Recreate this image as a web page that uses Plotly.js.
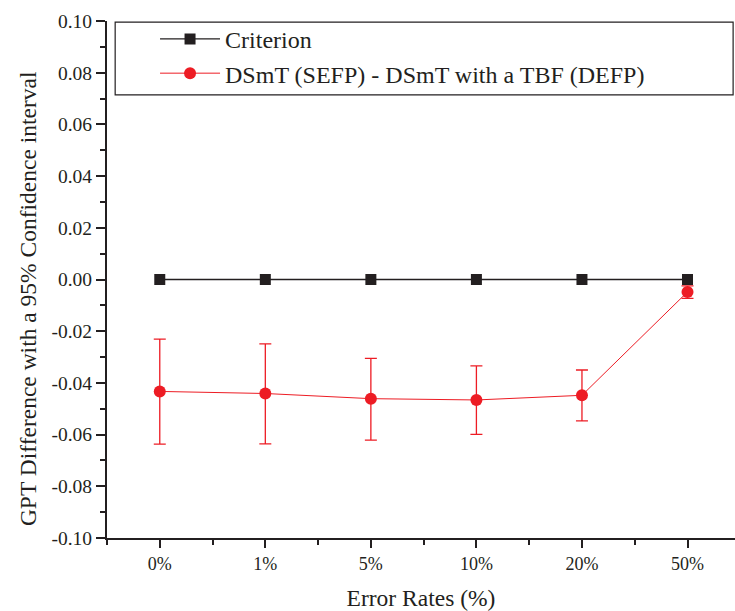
<!DOCTYPE html>
<html>
<head>
<meta charset="utf-8">
<script src="https://cdn.plot.ly/plotly-3.0.1.min.js"></script>
<style>html,body{margin:0;padding:0;background:#fff;}#chart{width:735px;height:611px;}</style>
</head>
<body>
<div id="chart"></div>
<script>
const categories = ["0%", "1%", "5%", "10%", "20%", "50%"];
const criterion = [0, 0, 0, 0, 0, 0];
const diffMean = [-0.0433, -0.0441, -0.0461, -0.0466, -0.0448, -0.0048];
const diffUpper = [-0.0231, -0.0249, -0.0305, -0.0334, -0.0350, -0.0025];
const diffLower = [-0.0637, -0.0636, -0.0621, -0.0599, -0.0547, -0.0073];
const yTickVals = [-0.10, -0.08, -0.06, -0.04, -0.02, 0.00, 0.02, 0.04, 0.06, 0.08, 0.10];
const yTickText = ["-0.10", "-0.08", "-0.06", "-0.04", "-0.02", "0.00", "0.02", "0.04", "0.06", "0.08", "0.10"];
const xTitle = "Error Rates (%)";
const yTitle = "GPT Difference with a 95% Confidence interval";

const xIdx = categories.map((_, i) => i);
const errPlus = diffMean.map((m, i) => diffUpper[i] - m);
const errMinus = diffMean.map((m, i) => m - diffLower[i]);

const serif = "Liberation Serif";

const traces = [
  {
    x: xIdx, y: criterion, name: "Criterion", type: "scatter", mode: "lines+markers",
    line: {color: "#231f20", width: 1.3},
    marker: {symbol: "square", size: 11, color: "#231f20"}
  },
  {
    x: xIdx, y: diffMean, name: "DSmT (SEFP) - DSmT with a TBF (DEFP)", type: "scatter", mode: "lines+markers",
    line: {color: "#ed1c24", width: 1},
    marker: {symbol: "circle", size: 12, color: "#ed1c24"},
    error_y: {type: "data", symmetric: false, array: errPlus, arrayminus: errMinus,
              color: "#ed1c24", thickness: 1.3, width: 6}
  }
];

const layout = {
  width: 735, height: 611,
  margin: {l: 107, r: 0, t: 21, b: 73},
  paper_bgcolor: "#fff", plot_bgcolor: "#fff",
  font: {family: serif, color: "#231f20"},
  showlegend: true,
  legend: {
    x: 0.0765, y: 1.008, xanchor: "left", yanchor: "top",
    bgcolor: "rgba(0,0,0,0)", borderwidth: 0,
    font: {family: serif, size: 24, color: "#231f20"},
    itemwidth: 60, tracegroupgap: 0
  },
  shapes: [
    {type: "rect", xref: "paper", yref: "paper", x0: 0.013, x1: 0.997, y0: 0.857, y1: 0.998,
     line: {color: "#231f20", width: 1.2}, fillcolor: "rgba(0,0,0,0)"}
  ],
  annotations: [
    {text: yTitle, xref: "paper", yref: "paper", x: -0.1258, y: 0.464, xanchor: "center", yanchor: "middle",
     textangle: -90, showarrow: false, font: {family: serif, size: 23.5, color: "#231f20"}}
  ],
  xaxis: {
    range: [-0.5, 5.45],
    tickmode: "array", tickvals: xIdx, ticktext: categories,
    showgrid: false, zeroline: false,
    showline: true, linecolor: "#231f20", linewidth: 2,
    ticks: "outside", ticklen: 8, tickwidth: 2, tickcolor: "#231f20",
    minor: {dtick: 0.5, tick0: -0.5, ticks: "outside", ticklen: 5, tickwidth: 2, tickcolor: "#231f20", showgrid: false},
    tickfont: {family: serif, size: 18, color: "#231f20"},
    title: {text: xTitle, font: {family: serif, size: 23.5, color: "#231f20"}, standoff: 20}
  },
  yaxis: {
    range: [-0.1, 0.1],
    tickmode: "array", tickvals: yTickVals, ticktext: yTickText,
    showgrid: false, zeroline: false,
    showline: true, linecolor: "#231f20", linewidth: 2,
    ticks: "outside", ticklen: 9, tickwidth: 2, tickcolor: "#231f20",
    minor: {tickmode: "linear", tick0: -0.1, dtick: 0.01, ticks: "outside", ticklen: 5, tickwidth: 2, tickcolor: "#231f20", showgrid: false},
    tickfont: {family: serif, size: 19.5, color: "#231f20"}
  }
};

Plotly.newPlot("chart", traces, layout, {displayModeBar: false, staticPlot: true});
</script>
</body>
</html>
